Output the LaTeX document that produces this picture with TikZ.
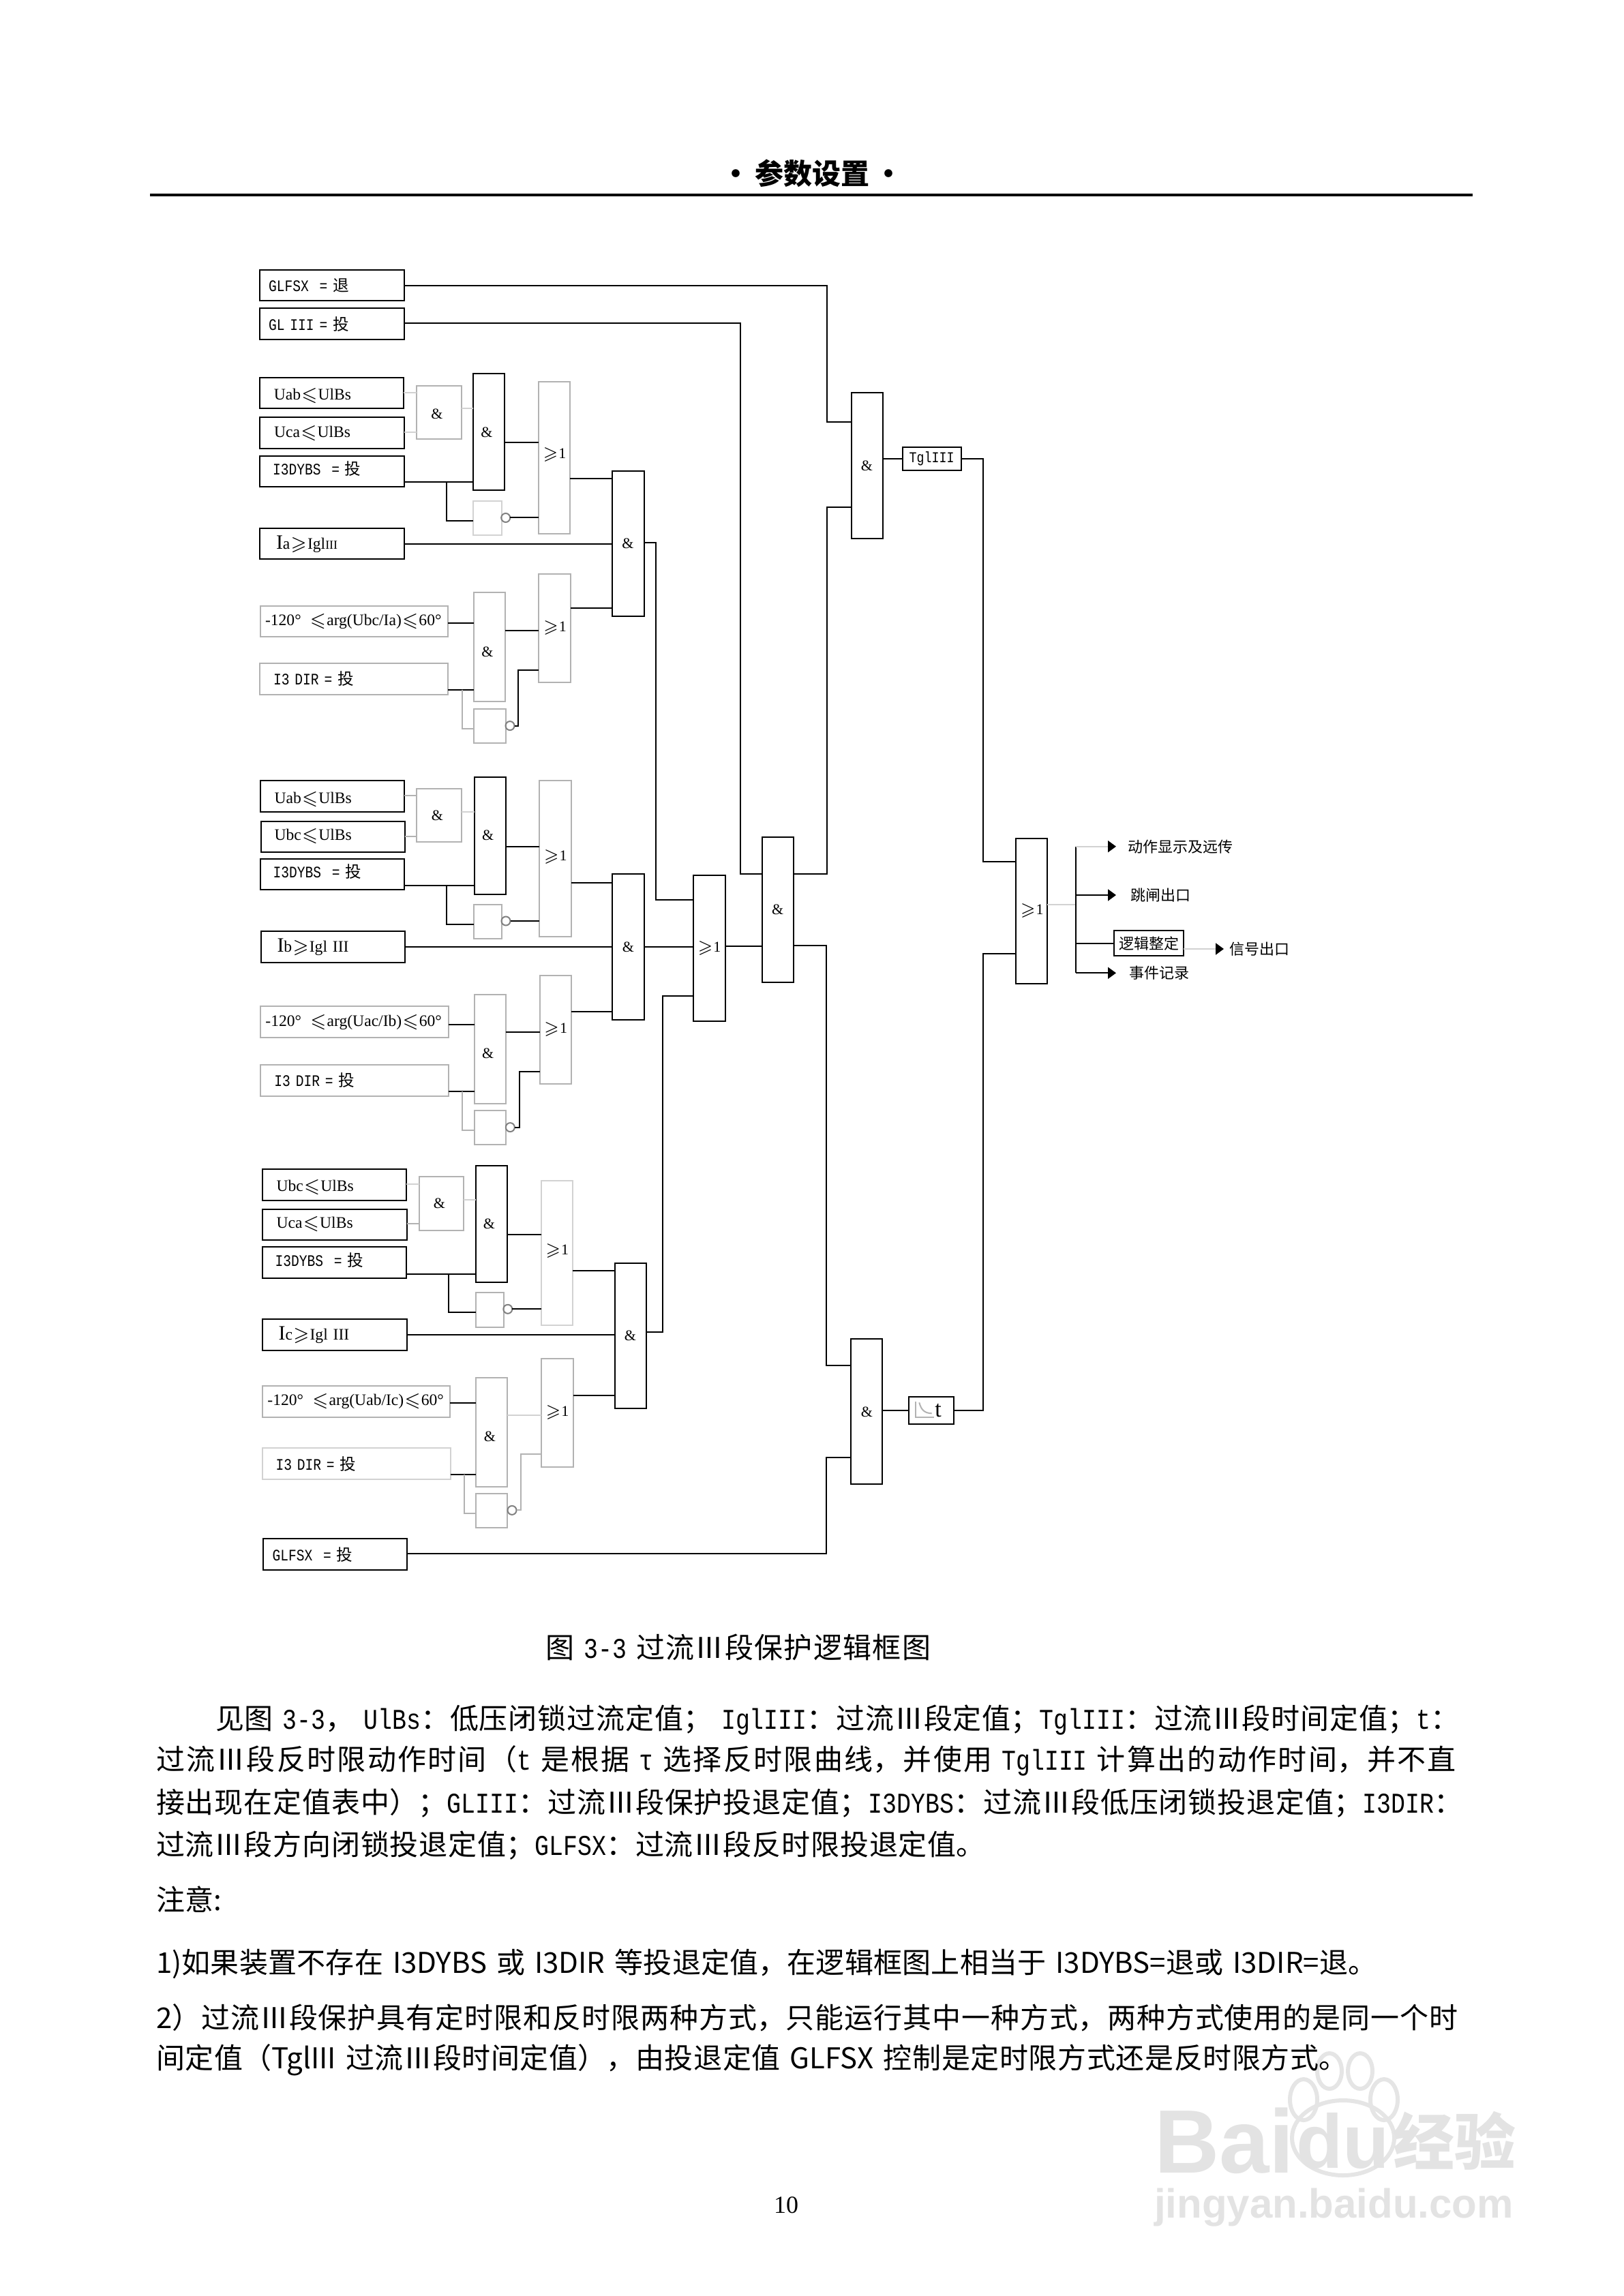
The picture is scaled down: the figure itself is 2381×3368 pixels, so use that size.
\documentclass[tikz,border=0pt]{standalone}
\usepackage{amssymb}
\usepackage{fontspec}
\setmainfont{Liberation Serif}
\setmonofont[FakeStretch=0.83]{Liberation Mono}
\newfontfamily\cjk{Noto Sans CJK SC}
\newfontfamily\wmfont{Liberation Sans}
\usetikzlibrary{arrows.meta,positioning}
\newcommand{\lat}[1]{{\ttfamily #1}}
\newcommand{\andsym}{\&\hspace*{1.5pt}}
\newcommand{\upby}[1]{\rule[-#1]{0pt}{#1}}
\newcommand{\downby}[1]{\rule{0pt}{#1}}
\newcommand{\bodyline}[1]{\noindent\XeTeXlinebreaklocale "zh"\XeTeXlinebreakskip=0pt plus 3pt minus .2pt\relax\parfillskip=0pt\relax #1\par}
\tikzset{
  sigbox/.style n args={3}{draw,outer sep=0pt,inner ysep=0pt,inner xsep=#3*.25pt,
    minimum width=#1*.25pt,minimum height=#2*.25pt,text width={(#1-2*#3)*.25pt},align=left,
    font=\fontsize{5.9}{7}\selectfont},
  gate/.style 2 args={draw,outer sep=0pt,inner sep=0pt,minimum width=#1*.25pt,minimum height=#2*.25pt,
    font=\fontsize{5.5}{7}\selectfont},
  lite/.style={draw=gray!60},
  faint/.style={draw=gray!35},
  bubble/.style={circle,draw=gray,outer sep=0pt,inner sep=0pt,minimum size=3.25pt},
  outtext/.style={anchor=west,inner ysep=0pt,inner xsep=#1*.25pt,font=\fontsize{5.5}{7}\selectfont\cjk},
  textline/.style={anchor=west,inner sep=0pt,text width=#1*.25pt,font=\fontsize{10.5}{12}\selectfont\cjk},
  wm/.style={inner sep=0pt,text=gray!22}
}
\begin{document}
\begin{tikzpicture}[x=.25pt,y=-.25pt,line width=.5pt,>={Triangle[length=3pt,width=4.25pt,color=black]}]
\useasboundingbox (0,0) rectangle (2381,3368);
\draw[gray!20,line width=1.5pt] (1970,3136) ellipse (75 and 55);
\draw[gray!20,line width=1.5pt] (1912,3080) ellipse (20 and 30);
\draw[gray!20,line width=1.5pt] (1950,3038) ellipse (18 and 26);
\draw[gray!20,line width=1.5pt] (1995,3038) ellipse (18 and 26);
\draw[gray!20,line width=1.5pt] (2030,3080) ellipse (20 and 30);
\node[wm,anchor=west,font=\fontsize{33}{36}\selectfont\wmfont\bfseries] (wmbai) at (1692,3140) {Bai};
\node[wm,anchor=west,font=\fontsize{28}{30}\selectfont\wmfont\bfseries] (wmdu) at (1900,3140) {du};
\node[wm,anchor=west,font=\fontsize{22.5}{24}\selectfont\cjk\bfseries] (wmjy) at (2042,3140) {经验};
\node[wm,anchor=west,font=\fontsize{15}{17}\selectfont\wmfont\bfseries] (wmurl) at (1692,3238) {jingyan.baidu.com};

\node[font=\fontsize{10.5}{12}\selectfont\cjk\bfseries] (head) at (1191.5,254) {•\,参数设置\,•};
\node[inner sep=0pt,minimum width=485pt,minimum height=.8pt,fill=black] (headrule) at (1189.5,286) {};

\node[sigbox={212}{45}{13}] (glfsx) at (487,419) {\lat{GLFSX~~=~}{\cjk 退}};
\node[sigbox={212}{46}{13}] (gl3) at (487,475.5) {\lat{GL III~=~}{\cjk 投}};

\node[sigbox={211.5}{45}{21}] (uab1) at (486.5,577) {\downby{6.2pt}Uab$\leqslant$UlBs};
\node[sigbox={212}{46}{21}] (uca1) at (487,635.2) {Uca$\leqslant$UlBs};
\node[sigbox={212}{45}{19}] (dybs1) at (487,691.8) {\upby{2.5pt}\lat{I3DYBS~~=~}{\cjk 投}};
\node[gate={66}{78},lite] (sand1) at (644,605) {\downby{5pt}\andsym};
\node[gate={46}{171}] (and1) at (717,633.9) {\andsym};
\node[gate={46}{223},lite] (or1) at (813,672) {\upby{3.5pt}$\geqslant$1};
\node[gate={42}{50},faint] (not1) at (714.5,760.4) {};
\node[bubble] (bub1) at (741.7,759.5) {};
\node[sigbox={212}{45}{24}] (ia) at (487,797.8) {{\fontsize{7.5}{7}\selectfont I}a$\geqslant$Igl{\fontsize{4.5}{6}\selectfont III}};
\node[sigbox={275}{45.5}{7},lite] (ang1) at (519.5,911.5) {\mbox{-120°\hspace{3pt}$\leqslant$arg(Ubc/Ia)$\leqslant$60°}};
\node[sigbox={276}{45.5}{20},lite] (dir1) at (519,996) {\lat{I3 DIR~=~}{\cjk 投}};
\node[gate={46}{160},lite] (dand1) at (718,949.3) {\downby{7pt}\andsym};
\node[gate={47}{159},lite] (dor1) at (813.5,921.8) {\upby{1.5pt}$\geqslant$1};
\node[gate={47}{50.5},lite] (dnot1) at (718.5,1065) {};
\node[bubble] (dbub1) at (748,1064.6) {};
\node[gate={47}{213}] (phase1) at (921,797.6) {\&};

\node[sigbox={211}{46}{21}] (uab2) at (487,1168.4) {\downby{6.2pt}Uab$\leqslant$UlBs};
\node[sigbox={211}{45}{20}] (ubc2) at (488,1227) {Ubc$\leqslant$UlBs};
\node[sigbox={211}{45}{19}] (dybs2) at (487,1282.8) {\upby{2.5pt}\lat{I3DYBS~~=~}{\cjk 投}};
\node[gate={66}{78},lite] (sand2) at (644.4,1196.2) {\andsym};
\node[gate={46}{172}] (and2) at (718.6,1225.5) {\andsym};
\node[gate={46.6}{228.5},lite] (or2) at (814.3,1259.7) {\upby{2.5pt}$\geqslant$1};
\node[gate={41}{50.6},lite] (not2) at (715,1352) {};
\node[bubble] (bub2) at (742,1351) {};
\node[sigbox={211}{46}{24}] (ib) at (488,1389.4) {{\fontsize{7.5}{7}\selectfont I}b$\geqslant$Igl III};
\node[sigbox={275.6}{46}{7},lite] (ang2) at (520.2,1499.4) {\mbox{-120°\hspace{3pt}$\leqslant$arg(Uac/Ib)$\leqslant$60°}};
\node[sigbox={275.6}{45.5}{20},lite] (dir2) at (520.2,1585) {\lat{I3 DIR~=~}{\cjk 投}};
\node[gate={46}{160},lite] (dand2) at (718.6,1538.5) {\downby{7pt}\andsym};
\node[gate={46}{159},lite] (dor2) at (814.6,1510.9) {\upby{1.5pt}$\geqslant$1};
\node[gate={46}{50},lite] (dnot2) at (718.6,1654.4) {};
\node[bubble] (dbub2) at (748.3,1653.6) {};
\node[gate={46.4}{214}] (phase2) at (921.5,1389.3) {\&};

\node[sigbox={211}{46}{21}] (ubc3) at (490,1737.5) {\downby{6.2pt}Ubc$\leqslant$UlBs};
\node[sigbox={212}{45}{21}] (uca3) at (490.6,1796) {Uca$\leqslant$UlBs};
\node[sigbox={211}{46}{19}] (dybs3) at (490,1852.4) {\upby{2.5pt}\lat{I3DYBS~~=~}{\cjk 投}};
\node[gate={65.5}{78.3},lite] (sand3) at (647.3,1765.5) {\andsym};
\node[gate={46}{171}] (and3) at (720.5,1795) {\andsym};
\node[gate={46.5}{212},faint] (or3) at (816.8,1837.9) {\upby{2.5pt}$\geqslant$1};
\node[gate={41}{51},lite] (not3) at (718,1921) {};
\node[bubble] (bub3) at (744.8,1920.3) {};
\node[sigbox={212}{46}{24}] (ic) at (490.6,1958.4) {{\fontsize{7.5}{7}\selectfont I}c$\geqslant$Igl III};
\node[sigbox={275}{46}{7},lite] (ang3) at (522.9,2055.7) {\mbox{-120°\hspace{3pt}$\leqslant$arg(Uab/Ic)$\leqslant$60°}};
\node[sigbox={276}{45.5}{20},faint] (dir3) at (522.5,2147.2) {\lat{I3 DIR~=~}{\cjk 投}};
\node[gate={46}{160},lite] (dand3) at (721.4,2100.5) {\downby{7pt}\andsym};
\node[gate={47}{159},lite] (dor3) at (817,2072.9) {\upby{1.5pt}$\geqslant$1};
\node[gate={46}{50.4},lite] (dnot3) at (721.4,2216.2) {};
\node[bubble] (dbub3) at (751,2215.4) {};
\node[gate={46}{213}] (phase3) at (924.5,1959) {\&};
\node[sigbox={211}{46}{14}] (glinv) at (491,2280.3) {\lat{GLFSX~~=~}{\cjk 投}};

\node[gate={47}{214}] (anyor) at (1040,1391.3) {$\geqslant$1};
\node[gate={46}{213.6}] (anyand) at (1140.6,1334.5) {\&};
\node[gate={46}{214}] (tand) at (1271.5,683.3) {\&};
\node[gate={86}{34}] (tgl) at (1366.6,673) {\lat{TglIII}};
\node[gate={46}{213}] (iand) at (1271.3,2070.8) {\&};
\node[gate={65.4}{40},font=\fontsize{8.5}{9}\selectfont] (tinv) at (1366,2069.3) {\hspace*{5pt}t};
\draw[lite] (1343.3,2056) |- (1370,2079.3);
\draw[lite] (1348.3,2057.3) .. controls (1351,2068) and (1356,2073) .. (1366.7,2073.3);
\node[gate={46}{213.6}] (orout) at (1513.3,1336.4) {$\geqslant$1};
\coordinate (busa) at (1577.6,1327);
\node[outtext=16] (act) at (1637,1241.7) {动作显示及远传};
\node[outtext=20] (trip) at (1637,1313) {跳闸出口};
\node[gate={102}{37},font=\fontsize{5.5}{7}\selectfont\cjk] (logic) at (1685.2,1383.9) {逻辑整定};
\node[outtext=7] (sigout) at (1795,1392) {信号出口};
\node[outtext=18] (rec) at (1637,1427.3) {事件记录};

\draw[faint] (uab1.east |- 0,576) -- (sand1.west |- 0,576);
\draw[faint] (uca1.east |- 0,634) -- (sand1.west |- 0,634);
\draw[faint] (sand1.east |- 0,599.5) -- (and1.west |- 0,599.5);
\draw (and1.east |- 0,649.5) -- (or1.west |- 0,649.5);
\draw (dybs1.east |- 0,707.4) -- (and1.west |- 0,707.4);
\draw (655,707.4) |- (not1.west |- 0,763.8);
\draw (bub1.east) -- (or1.west |- bub1.east);
\draw (or1.east |- 0,702.3) -- (phase1.west |- 0,702.3);
\draw (ia.east) -- (phase1.west |- ia.east);
\draw (ang1.east |- 0,914.4) -- (dand1.west |- 0,914.4);
\draw (dir1.east |- 0,1012.2) -- (dand1.west |- 0,1012.2);
\draw[lite] (678,1012.2) |- (dnot1.west |- 0,1069);
\draw (dand1.east |- 0,925.4) -- (dor1.west |- 0,925.4);
\draw (dbub1.east) -| (760,983.3) -- (dor1.west |- 0,983.3);
\draw (dor1.east |- 0,892) -- (phase1.west |- 0,892);

\draw[lite] (uab2.east |- 0,1167) -- (sand2.west |- 0,1167);
\draw[lite] (ubc2.east |- 0,1226.5) -- (sand2.west |- 0,1226.5);
\draw[faint] (sand2.east |- 0,1190.5) -- (and2.west |- 0,1190.5);
\draw (and2.east |- 0,1241.6) -- (or2.west |- 0,1241.6);
\draw (dybs2.east |- 0,1299.3) -- (and2.west |- 0,1299.3);
\draw (655.4,1299.3) |- (not2.west |- 0,1356);
\draw (bub2.east) -- (or2.west |- bub2.east);
\draw (or2.east |- 0,1294.5) -- (phase2.west |- 0,1294.5);
\draw (ib.east) -- (phase2.west |- ib.east);
\draw (ang2.east |- 0,1502.5) -- (dand2.west |- 0,1502.5);
\draw (dir2.east |- 0,1601.4) -- (dand2.west |- 0,1601.4);
\draw[lite] (678.4,1601.4) |- (dnot2.west |- 0,1658.3);
\draw (dand2.east |- 0,1514.4) -- (dor2.west |- 0,1514.4);
\draw (dbub2.east) -| (761.5,1572.1) -- (dor2.west |- 0,1572.1);
\draw (dor2.east |- 0,1484.3) -- (phase2.west |- 0,1484.3);

\draw[faint] (ubc3.east |- 0,1736.8) -- (sand3.west |- 0,1736.8);
\draw[lite] (uca3.east |- 0,1795.3) -- (sand3.west |- 0,1795.3);
\draw[faint] (sand3.east |- 0,1760) -- (and3.west |- 0,1760);
\draw (and3.east |- 0,1810.5) -- (or3.west |- 0,1810.5);
\draw (dybs3.east |- 0,1868.6) -- (and3.west |- 0,1868.6);
\draw (657.8,1868.6) |- (not3.west |- 0,1925);
\draw (bub3.east) -- (or3.west |- bub3.east);
\draw (or3.east |- 0,1863.5) -- (phase3.west |- 0,1863.5);
\draw (ic.east) -- (phase3.west |- ic.east);
\draw (ang3.east |- 0,2058.4) -- (dand3.west |- 0,2058.4);
\draw (dir3.east |- 0,2163.2) -- (dand3.west |- 0,2163.2);
\draw[lite] (681.4,2163.2) |- (dnot3.west |- 0,2220);
\draw[faint] (dand3.east |- 0,2075.6) -- (dor3.west |- 0,2075.6);
\draw[lite] (dbub3.east) -| (764,2133.3) -- (dor3.west |- 0,2133.3);
\draw (dor3.east |- 0,2046.6) -- (phase3.west |- 0,2046.6);

\draw (phase1.east |- 0,796.4) -| (961.5,1320.2) -- (anyor.west |- 0,1320.2);
\draw (phase2.east) -- (anyor.west |- phase2.east);
\draw (phase3.east |- 0,1953.6) -| (971.5,1461.4) -- (anyor.west |- 0,1461.4);
\draw (gl3.east |- 0,473.7) -| (1086,1282) -- (anyand.west |- 0,1282);
\draw (anyor.east |- 0,1388.2) -- (anyand.west |- 0,1388.2);
\draw (glfsx.east) -| (1212.7,619.3) -- (tand.west |- 0,619.3);
\draw (anyand.east |- 0,1282) -| (1212.7,744.3) -- (tand.west |- 0,744.3);
\draw (anyand.east |- 0,1387) -| (1212,2003.3) -- (iand.west |- 0,2003.3);
\draw (glinv.east |- 0,2279.3) -| (1212.3,2138.3) -- (iand.west |- 0,2138.3);
\draw (tand.east |- tgl.west) -- (tgl.west);
\draw (iand.east |- tinv.west) -- (tinv.west);
\draw (tgl.east) -| (1441.8,1264) -- (orout.west |- 0,1264);
\draw (tinv.east) -| (1441.8,1399.2) -- (orout.west |- 0,1399.2);
\draw[faint] (orout.east |- busa) -- (busa);
\draw (busa |- act.west) -- (busa |- rec.west);
\draw[faint,->] (busa |- act.west) -- (act.west);
\draw[->] (busa |- trip.west) -- (trip.west);
\draw (busa |- logic.west) -- (logic.west);
\draw[->] (busa |- rec.west) -- (rec.west);
\draw[faint,->] (logic.east |- sigout.west) -- (sigout.west);

\node[textline=574] (caption) at (799.5,2416.7) {\bodyline{图 \lat{3-3} 过流Ⅲ段保护逻辑框图}};
\node[textline=1830] (line1) at (315,2522.7) {\bodyline{见图 \lat{3-3}， \lat{UlBs}：低压闭锁过流定值； \lat{IglIII}：过流Ⅲ段定值；\lat{TglIII}：过流Ⅲ段时间定值；\lat{t}：}};
\node[textline=1923] (line2) at (228,2583) {\bodyline{过流Ⅲ段反时限动作时间（\lat{t} 是根据 \lat{τ} 选择反时限曲线，并使用 \lat{TglIII} 计算出的动作时间，并不直}};
\node[textline=1923] (line3) at (228,2645) {\bodyline{接出现在定值表中）；\lat{GLIII}：过流Ⅲ段保护投退定值；\lat{I3DYBS}：过流Ⅲ段低压闭锁投退定值；\lat{I3DIR}：}};
\node[textline=1222] (line4) at (228,2706.7) {\bodyline{过流Ⅲ段方向闭锁投退定值；\lat{GLFSX}：过流Ⅲ段反时限投退定值。}};
\node[anchor=west,inner sep=0pt,font=\fontsize{10.5}{12}\selectfont\cjk] (note) at (228,2786) {注意:};
\node[textline=1792] (note1) at (228,2881) {\bodyline{1)如果装置不存在 I3DYBS 或 I3DIR 等投退定值，在逻辑框图上相当于 I3DYBS=退或 I3DIR=退。}};
\node[textline=1916] (note2) at (228,2959.6) {\bodyline{2）过流Ⅲ段保护具有定时限和反时限两种方式，只能运行其中一种方式，两种方式使用的是同一个时}};
\node[textline=1752] (note3) at (228,3022) {\bodyline{间定值（TglIII 过流Ⅲ段时间定值），由投退定值 GLFSX 控制是定时限方式还是反时限方式。}};
\node[inner sep=0pt,font=\fontsize{9}{10}\selectfont] (pageno) at (1153,3234.6) {10};
\end{tikzpicture}
\end{document}
